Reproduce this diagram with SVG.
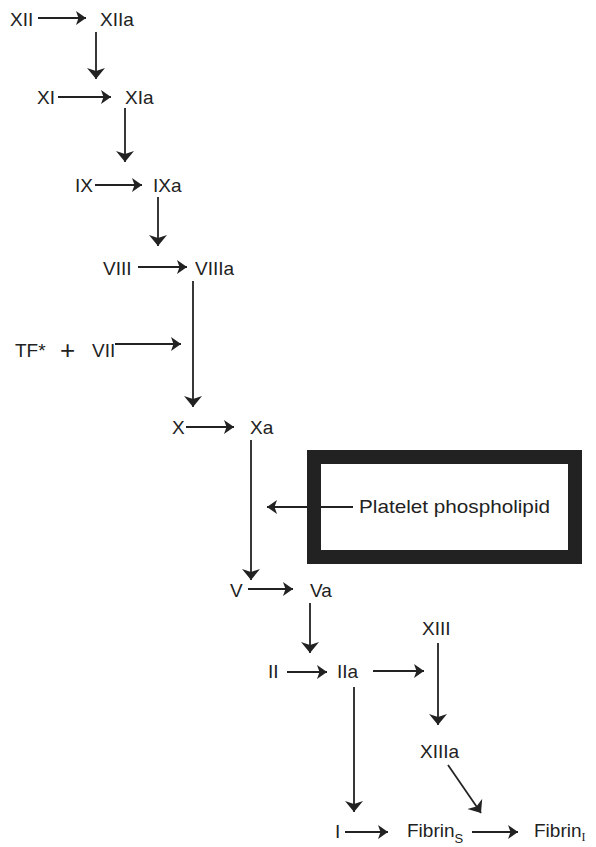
<svg xmlns="http://www.w3.org/2000/svg" width="596" height="847" viewBox="0 0 596 847">
<style>
  text { font-family: "Liberation Sans", Arial, sans-serif; font-size: 19px; fill: #222; }
  .con line { stroke: #222; stroke-width: 1.8; fill: none; }
  .h { marker-end: url(#ah); }
  .v { marker-end: url(#av); }
</style>
<defs>
  <marker id="ah" markerUnits="userSpaceOnUse" markerWidth="12" markerHeight="16" viewBox="0 -8 12 16" refX="10" refY="0" orient="auto">
    <path d="M0,-7 L10,0 L0,7 L2.5,0 z" fill="#222"/>
  </marker>
  <marker id="av" markerUnits="userSpaceOnUse" markerWidth="13" markerHeight="20" viewBox="0 -10 13 20" refX="11" refY="0" orient="auto">
    <path d="M0,-9 L11,0 L0,9 L3,0 z" fill="#222"/>
  </marker>
</defs>
<rect x="0" y="0" width="596" height="847" fill="#fff"/>

<g id="n-XII"><text x="10" y="26">XII</text></g>
<g id="n-XIIa"><text x="100" y="26">XIIa</text></g>
<g id="n-XI"><text x="37" y="104">XI</text></g>
<g id="n-XIa"><text x="125" y="104">XIa</text></g>
<g id="n-IX"><text x="75" y="192">IX</text></g>
<g id="n-IXa"><text x="153" y="192">IXa</text></g>
<g id="n-VIII"><text x="103" y="275">VIII</text></g>
<g id="n-VIIIa"><text x="195" y="275">VIIIa</text></g>
<g id="n-TFVII"><text x="15" y="357">TF*<tspan x="60" y="359" font-size="26" font-weight="lighter">+</tspan><tspan x="92" y="357">VII</tspan></text></g>
<g id="n-X"><text x="172" y="434">X</text></g>
<g id="n-Xa"><text x="250" y="434">Xa</text></g>
<g id="n-platelet">
  <rect x="314" y="457" width="261" height="100" fill="#fff" stroke="#222" stroke-width="14"/>
  <text x="359" y="513" font-size="20" textLength="191" lengthAdjust="spacingAndGlyphs">Platelet phospholipid</text>
</g>
<g id="n-V"><text x="230" y="597">V</text></g>
<g id="n-Va"><text x="310" y="597">Va</text></g>
<g id="n-II"><text x="268" y="678">II</text></g>
<g id="n-IIa"><text x="337" y="678">IIa</text></g>
<g id="n-XIII"><text x="422" y="635">XIII</text></g>
<g id="n-XIIIa"><text x="420" y="758">XIIIa</text></g>
<g id="n-I"><text x="335" y="838">I</text></g>
<g id="n-FibrinS"><text x="407" y="837">Fibrin<tspan font-size="13" dy="6">S</tspan></text></g>
<g id="n-FibrinI"><text x="534" y="837">Fibrin<tspan font-size="12" dy="4" font-family="Liberation Serif, serif">I</tspan></text></g>

<g id="connectors" class="con">
  <line class="h" x1="38" y1="18" x2="86" y2="18"/>
  <line class="v" x1="96" y1="32" x2="96" y2="79"/>
  <line class="h" x1="58" y1="97" x2="111" y2="97"/>
  <line class="v" x1="125" y1="108" x2="125" y2="162"/>
  <line class="h" x1="95" y1="185" x2="142" y2="185"/>
  <line class="v" x1="158" y1="197" x2="158" y2="246"/>
  <line class="h" x1="138" y1="267" x2="187" y2="267"/>
  <line class="v" x1="193" y1="281" x2="193" y2="407"/>
  <line class="h" x1="115" y1="344" x2="181" y2="344"/>
  <line class="h" x1="186" y1="427" x2="234" y2="427"/>
  <line class="v" x1="251" y1="440" x2="251" y2="580"/>
  <line class="h" x1="353" y1="507" x2="267" y2="507"/>
  <line class="h" x1="248" y1="589" x2="293" y2="589"/>
  <line class="v" x1="310" y1="603" x2="310" y2="653"/>
  <line class="h" x1="287" y1="672" x2="327" y2="672"/>
  <line class="h" x1="373" y1="671" x2="424" y2="671"/>
  <line class="v" x1="438" y1="643" x2="438" y2="725"/>
  <line class="v" x1="354" y1="687" x2="354" y2="812"/>
  <line class="v" x1="448" y1="765" x2="481" y2="813"/>
  <line class="h" x1="345" y1="832" x2="388" y2="832"/>
  <line class="h" x1="472" y1="832" x2="518" y2="832"/>
</g>
</svg>
